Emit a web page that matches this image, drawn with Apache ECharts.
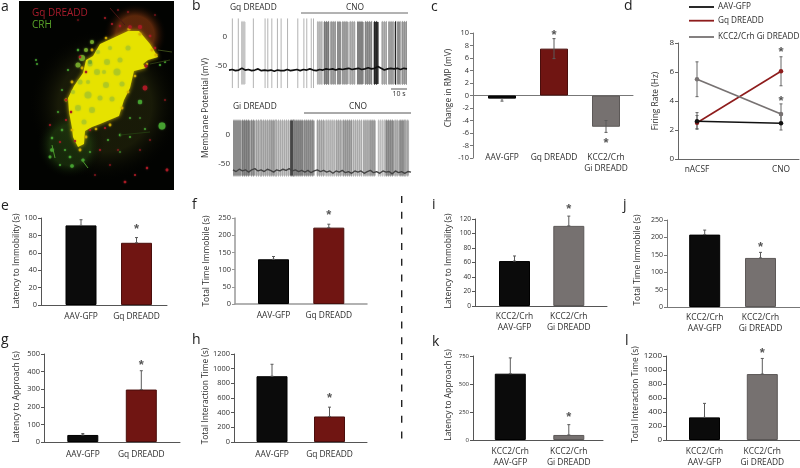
<!DOCTYPE html>
<html><head><meta charset="utf-8">
<style>html,body{margin:0;padding:0;background:#fff}#c{width:800px;height:468px}</style>
<script src="https://cdn.jsdelivr.net/npm/echarts@6/dist/echarts.min.js"></script>
</head><body><div id="c"></div>
<script>
// ---------- data ----------
const groupsGq = ['AAV-GFP', 'Gq DREADD'];
const groupsKcc = ['KCC2/Crh\nAAV-GFP', 'KCC2/Crh\nGi DREADD'];
const groupsC = ['AAV-GFP', 'Gq DREADD', 'KCC2/Crh\nGi DREADD'];

const cValues = [-0.5, 7.5, -5];
const cErrHi = [-0.5, 9.1, -4];
const cErrLo = [-0.9, 5.9, -5.9];
const cStars = [[2, 10], [3, -7.3]];

const dConditions = ['nACSF', 'CNO'];
const dAav = [2.6, 2.47], dAavHi = [3.2, 3.0], dAavLo = [2.05, 2.0];
const dGq = [2.5, 6.05], dGqHi = [3.0, 7.05], dGqLo = [2.1, 5.05];
const dGi = [5.5, 3.1], dGiHi = [6.7, 3.8], dGiLo = [4.3, 2.5];
const dStars = [[2, 7.5], [2, 4.15]];

const eValues = [91.5, 71.5], eErr = [98, 77.5], eStars = [[2, 90]];
const fValues = [130, 222], fErr = [138, 232], fStars = [[2, 265]];
const gValues = [40, 298], gErr = [48, 405], gStars = [[2, 449]];
const hValues = [897, 348], hErr = [1060, 475], hStars = [[2, 630]];
const iValues = [62, 110.5], iErr = [69, 124], iStars = [[2, 136]];
const jValues = [208, 141], jErr = [221, 157], jStars = [[2, 178]];
const kValues = [592, 45], kErr = [733, 137], kStars = [[2, 222]];
const lValues = [323, 942], lErr = [523, 1165], lStars = [[2, 1270]];

// traces in panel b: time (s), density 0..1
const gqSpikes = [2.1, 5.8, 15.2, 22.5, 24.2, 26.7, 30.2, 32.5, 36.5, 42.9, 46.7, 48.5, 51.3, 52.7];
const gqBursts = [[7.5,10.4,.2],[54.8,58.3,.27],[59,62.5,.53],[63.1,66.7,.4],[67.3,70,.47],[70.4,74.6,.4],[75,78.8,.33],[79.8,84,.53],[84.6,89.2,.47],[90.2,93.3,.93],[95,98.5,.33],[99.2,102.7,.4],[103.3,104.2,.93],[104.8,106.9,.47],[107.5,111,.4]];
const gqBaseline = [-57,-56,-58,-57,-54,-57,-56,-58,-57,-55,-58,-57,-58,-57,-59,-57,-58,-58,-56,-58,-57,-56,-58,-56,-57,-55,-57,-58,-56,-57,-55,-56,-55,-57,-55,-56,-55,-54,-56,-55,-54,-56,-55,-53,-55,-54,-51,-54,-57,-55,-54,-55,-54,-56,-54,-55];
const giBursts = [[0,5.4,.47],[5.4,11,.53],[11,14,.47],[14,17.2,.33],[17.2,23.2,.33],[23.2,26.5,.4],[26.5,35.6,.27],[35.6,37.5,.8],[37.5,44.1,.53],[44.1,50.9,.47],[52.1,57.5,.33],[57.5,64,.27],[64,68.2,.33],[68.2,74.5,.4],[74.5,80.7,.27],[81,84.9,.33],[84.9,89,.4],[90.2,95,.2],[95,100.5,.47],[100.5,103.6,.33],[103.6,107.1,.47],[107.1,109.8,.33]];
const giBaseline = [-60,-63,-59,-62,-60,-64,-60,-58,-62,-60,-63,-59,-61,-64,-60,-62,-59,-61,-58,-62,-60,-63,-61,-64,-61,-65,-62,-60,-63,-61,-64,-62,-66,-62,-64,-61,-65,-63,-66,-62,-64,-62,-66,-63,-61,-65,-63,-66,-62,-64,-63,-67,-62,-65,-63,-66,-63,-64];

const el = document.getElementById('c');
const chart = echarts.init(el, null, { renderer: 'canvas', width: 800, height: 468 });
const FONT = '"Open Sans", "Noto Sans", sans-serif';
const BLACK = '#0b0b0b', RED = '#701512', GRAY = '#767170', TEXT = '#2e2e2e';

const option = { animation: false, backgroundColor: '#fff', grid: [], xAxis: [], yAxis: [], series: [], graphic: [], legend: [] };

function addErr(ax, pts, color, cap) {
  option.series.push({
    type: 'custom', xAxisIndex: ax, yAxisIndex: ax, clip: false, z: 5, silent: true, data: pts,
    renderItem(p, api) {
      const x = api.value(0), a = api.coord([x, api.value(1)]), b = api.coord([x, api.value(2)]);
      const st = { stroke: color, lineWidth: 1 };
      const c = cap || 1.5;
      return { type: 'group', children: [
        { type: 'line', shape: { x1: a[0], y1: a[1], x2: b[0], y2: b[1] }, style: st },
        { type: 'line', shape: { x1: a[0] - c, y1: a[1], x2: a[0] + c, y2: a[1] }, style: st },
        { type: 'line', shape: { x1: b[0] - c, y1: b[1], x2: b[0] + c, y2: b[1] }, style: st }
      ] };
    }
  });
}
function addStars(ax, stars) {
  option.series.push({
    type: 'scatter', xAxisIndex: ax, yAxisIndex: ax, clip: false, symbolSize: 1, itemStyle: { color: 'transparent' }, z: 6, silent: true, data: stars,
    label: { show: true, formatter: '*', position: 'inside', fontSize: 13, fontWeight: 'bold', fontFamily: '"Liberation Sans"', color: '#2a2a2a', offset: [0, 2.5] }
  });
}
function axes(p, labels) {
  const ax = option.grid.length;
  const u = p.c2 - p.c1;
  option.grid.push({ left: p.x0, top: p.yTop, width: p.x1 - p.x0, height: p.yBot - p.yTop });
  option.xAxis.push({
    type: 'value', gridIndex: ax, min: 1 - (p.c1 - p.x0) / u, max: labels.length + (p.x1 - p.cEnd) / u,
    axisLine: { onZero: !!p.zeroLine, lineStyle: { color: p.axisColor, width: p.axisW || 1 } },
    axisTick: { show: false }, splitLine: { show: false },
    axisLabel: {
      customValues: labels.map((_, i) => i + 1), formatter: v => labels[v - 1], margin: p.labelMargin, interval: 0, hideOverlap: false,
      color: TEXT, fontSize: p.labelSize || 8.4, fontFamily: FONT, lineHeight: p.labelLH || 11, showMinLabel: true, showMaxLabel: true
    }
  });
  const mid = (p.yTop + p.yBot) / 2, s = mid - p.nameCy;
  option.yAxis.push({
    type: 'value', gridIndex: ax, min: p.ymin, max: p.ymax, interval: p.step,
    name: p.name, nameLocation: 'middle', nameRotate: 90, nameGap: p.x0 - p.nameX - 5,
    nameTextStyle: { color: TEXT, fontSize: p.nameSize || 8.4, fontFamily: FONT, padding: s > 0 ? [0, 0, 0, 2 * s] : [0, -2 * s, 0, 0] },
    axisLine: { show: true, onZero: false, lineStyle: { color: p.axisColor, width: p.axisW || 1 } },
    axisTick: { show: true, length: 3, lineStyle: { color: p.axisColor } }, splitLine: { show: false },
    axisLabel: { formatter: v => String(v), color: TEXT, fontSize: p.tickSize || 7.4, fontFamily: FONT, margin: 4, showMinLabel: true, showMaxLabel: true }
  });
  return ax;
}
function barPanel(p, labels, values, hi, lo, stars, colors, borders) {
  p.cEnd = p.c1 + (labels.length - 1) * (p.c2 - p.c1);
  const ax = axes(p, labels);
  option.series.push({
    type: 'bar', xAxisIndex: ax, yAxisIndex: ax, barWidth: p.barW, silent: true,
    data: values.map((v, i) => ({ value: [i + 1, v], itemStyle: { color: colors[i], borderColor: borders[i], borderWidth: 1 } }))
  });
  addErr(ax, values.map((v, i) => [i + 1, lo ? lo[i] : v, hi[i]]), '#5a5a5a');
  addStars(ax, stars);
}
const cGq = [BLACK, RED], bGq = ['#000', '#4a0e0c'];
const cKc = [BLACK, GRAY], bKc = ['#000', '#5c5857'];

barPanel({ x0: 473, x1: 633, yTop: 33, yBot: 158, c1: 502, c2: 554, barW: 28, ymin: -10, ymax: 10, step: 2, name: 'Change in RMP (mV)', nameX: 448, nameCy: 88, axisColor: '#777', zeroLine: true, labelMargin: -6 }, groupsC, cValues, cErrHi, cErrLo, cStars, [BLACK, RED, GRAY], ['#000', '#4a0e0c', '#5c5857']);

barPanel({ x0: 41, x1: 167, yTop: 218, yBot: 305, c1: 81, c2: 136.5, barW: 31, ymin: 0, ymax: 100, step: 20, name: 'Latency to Immobility (s)', nameX: 16, nameCy: 261, axisColor: '#555', labelMargin: 6 }, groupsGq, eValues, eErr, null, eStars, cGq, bGq);
barPanel({ x0: 235, x1: 367, yTop: 218, yBot: 304, c1: 273.5, c2: 328.8, barW: 31, ymin: 0, ymax: 250, step: 50, name: 'Total Time Immobile (s)', nameX: 206, nameCy: 261, axisColor: '#999', axisW: 1.5, labelMargin: 6 }, groupsGq, fValues, fErr, null, fStars, cGq, bGq);
barPanel({ x0: 44, x1: 180, yTop: 354, yBot: 442, c1: 82.8, c2: 141.3, barW: 31, ymin: 0, ymax: 500, step: 100, name: 'Latency to Approach (s)', nameX: 16, nameCy: 397, axisColor: '#555', labelMargin: 7 }, groupsGq, gValues, gErr, null, gStars, cGq, bGq);
barPanel({ x0: 234, x1: 367, yTop: 354, yBot: 442, c1: 272, c2: 329.5, barW: 31, ymin: 0, ymax: 1200, step: 200, name: 'Total Interaction Time (s)', nameX: 206, nameCy: 396, axisColor: '#555', labelMargin: 7 }, groupsGq, hValues, hErr, null, hStars, cGq, bGq);
barPanel({ x0: 475, x1: 607, yTop: 219, yBot: 306, c1: 514.5, c2: 568.8, barW: 31, ymin: 0, ymax: 120, step: 20, name: 'Latency to Immobility (s)', nameX: 448, nameCy: 261, axisColor: '#555', labelMargin: 5, tickSize: 6.6 }, groupsKcc, iValues, iErr, null, iStars, cKc, bKc);
barPanel({ x0: 667, x1: 800, yTop: 220, yBot: 307, c1: 704.7, c2: 760.5, barW: 31, ymin: 0, ymax: 250, step: 50, name: 'Total Time Immobile (s)', nameX: 637, nameCy: 260, axisColor: '#777', labelMargin: 5, tickSize: 7 }, groupsKcc, jValues, jErr, null, jStars, cKc, bKc);
barPanel({ x0: 473, x1: 603, yTop: 356, yBot: 444, c1: 510.3, c2: 568.8, barW: 31, ymin: 0, ymax: 750, step: 250, name: 'Latency to Approach (s)', nameX: 448, nameCy: 397, axisColor: '#555', labelMargin: 6, tickSize: 6 }, groupsKcc, kValues, kErr, null, kStars, cKc, bKc);
barPanel({ x0: 666, x1: 800, yTop: 356, yBot: 443, c1: 704.5, c2: 762.3, barW: 31, ymin: 0, ymax: 1200, step: 200, name: 'Total Interaction Time (s)', nameX: 637, nameCy: 396, axisColor: '#555', labelMargin: 6, tickSize: 8 }, groupsKcc, lValues, lErr, null, lStars, cKc, bKc);

// panel d
(function () {
  const p = { x0: 678, x1: 799, yTop: 43, yBot: 159, c1: 697, c2: 781, cEnd: 781, ymin: 0, ymax: 8, step: 2, name: 'Firing Rate (Hz)', nameX: 655, nameCy: 101, axisColor: '#666', labelMargin: 5, tickSize: 8 };
  const ax = axes(p, dConditions);
  const sets = [['AAV-GFP', dAav, dAavHi, dAavLo, '#111111'], ['Gq DREADD', dGq, dGqHi, dGqLo, '#8e1c1c'], ['KCC2/Crh Gi DREADD', dGi, dGiHi, dGiLo, '#777272']];
  const legendY = [9, 22.7, 39];
  sets.forEach((s, k) => {
    addErr(ax, s[1].map((v, i) => [i + 1, s[3][i], s[2][i]]), '#666');
    option.series.push({
      type: 'line', name: s[0], xAxisIndex: ax, yAxisIndex: ax, silent: true,
      symbol: 'circle', symbolSize: 4.5, lineStyle: { color: s[4], width: k === 2 ? 1.7 : 1.6 }, itemStyle: { color: s[4] },
      data: s[1].map((v, i) => [i + 1, v]), z: k === 0 ? 8 : 7
    });
    option.legend.push({
      data: [{ name: s[0], icon: 'rect' }], left: 689, top: legendY[k] - 6, itemWidth: 25, itemHeight: 1.8, itemGap: 4, padding: 0,
      itemStyle: { color: s[4] }, lineStyle: { opacity: 0 },
      textStyle: { color: TEXT, fontSize: 8.2, fontFamily: FONT, padding: [0, 0, 0, -1] }, selectedMode: false
    });
  });
  addStars(ax, dStars);
})();

// panel b traces
function tracePanel(left, zeroY, spikes, bursts, baseline, burstTop, burstBot, labelMargin, lineColor, lineW) {
  const ax = option.grid.length, scale = 0.58;
  option.grid.push({ left, top: zeroY - 50 * scale, width: 178, height: 150 * scale });
  option.xAxis.push({ type: 'value', gridIndex: ax, min: 0, max: 111, show: false });
  option.yAxis.push({ type: 'value', gridIndex: ax, min: -100, max: 50, interval: 50, axisLine: { show: false, onZero: false }, axisTick: { show: false }, splitLine: { show: false },
    axisLabel: { customValues: [0, -50], color: TEXT, fontSize: 8, fontFamily: FONT, margin: labelMargin } });
  option.series.push({
    type: 'custom', xAxisIndex: ax, yAxisIndex: ax, silent: true, clip: false, data: bursts, z: 2,
    renderItem(pm, api) {
      const a = api.coord([api.value(0), burstTop]), b = api.coord([api.value(1), burstBot]);
      const d = api.value(2), g = Math.round(255 * (1 - d * 0.85)), dk = Math.round(g - 40 * (1 - d * 0.5));
      const kids = [{ type: 'rect', shape: { x: a[0], y: a[1], width: b[0] - a[0], height: b[1] - a[1] }, style: { fill: `rgb(${g},${g},${g})` } }];
      for (let x = a[0] + 1; x < b[0]; x += 2) kids.push({ type: 'line', shape: { x1: x, y1: a[1] - 1, x2: x, y2: b[1] + 1 }, style: { stroke: `rgb(${dk},${dk},${dk})`, lineWidth: 0.8 } });
      return { type: 'group', children: kids };
    }
  });
  if (spikes.length) option.series.push({
    type: 'custom', xAxisIndex: ax, yAxisIndex: ax, silent: true, clip: false, data: spikes.map(t => [t]), z: 2,
    renderItem(pm, api) {
      const a = api.coord([api.value(0), burstTop + 6]), b = api.coord([api.value(0), burstBot - 7]);
      return { type: 'line', shape: { x1: a[0], y1: a[1], x2: b[0], y2: b[1] }, style: { stroke: '#aaaaaa', lineWidth: 0.9 } };
    }
  });
  option.series.push({
    type: 'line', xAxisIndex: ax, yAxisIndex: ax, silent: true, symbol: 'none', z: 3,
    lineStyle: { color: lineColor, width: lineW }, data: baseline.map((v, i) => [i * 111 / (baseline.length - 1), v])
  });
}
tracePanel(229, 37, gqSpikes, gqBursts, gqBaseline, 26, -81, 2, '#111', 1.7);
tracePanel(233, 135, [], giBursts, giBaseline, 25, -70, 3, '#444', 1.4);

// annotations
const g = option.graphic;
function txt(x, y, t, size, extra) {
  g.push({ type: 'text', x, y, silent: true, z: 20, style: Object.assign({ text: t, fill: TEXT, fontSize: size, fontFamily: FONT, align: 'left', verticalAlign: 'middle' }, extra || {}) });
}
function ln(x1, y1, x2, y2, stroke, w, dash) {
  g.push({ type: 'line', silent: true, z: 20, shape: { x1, y1, x2, y2 }, style: { stroke, lineWidth: w, lineDash: dash } });
}
[['a',1,7],['b',192,6],['c',431,7],['d',624,6],['e',1,206],['f',192,205],['g',1,340],['h',192,340],['i',432,205],['j',623,205],['k',432,342],['l',625,341]]
  .forEach(l => txt(l[1], l[2], l[0], 14, { fill: '#222' }));
txt(230, 8, 'Gq DREADD', 8.4);
txt(355, 8, 'CNO', 8.4, { align: 'center' });
txt(233, 107, 'Gi DREADD', 8.4);
txt(358, 107, 'CNO', 8.4, { align: 'center' });
txt(399, 94, '10 s', 7, { align: 'center' });
ln(301, 13, 408, 13, '#666', 1);
ln(304, 113, 411, 113, '#555', 1);
ln(391, 89, 407, 89, '#555', 1);
g.push({ type: 'text', x: 205.5, y: 108, rotation: Math.PI / 2, silent: true, z: 20, style: { text: 'Membrane Potential (mV)', fill: TEXT, fontSize: 8.4, fontFamily: FONT, align: 'center', verticalAlign: 'middle' } });
ln(401.7, 196, 401.7, 445, '#222', 1.4, [7, 8.7]);

// panel a: micrograph sketch
(function () {
  const frame = { x: 19, y: 1, width: 155, height: 189 };
  const items = [];
  const glow = (cx, cy, r, c) => items.push({ type: 'rect', shape: frame, style: { fill: { type: 'radial', x: cx, y: cy, r, global: true, colorStops: [{ offset: 0, color: c }, { offset: .6, color: c }, { offset: 1, color: 'rgba(0,0,0,0)' }] } } });
  const poly = (pts, fill, blur, sc) => items.push({ type: 'polygon', shape: { points: pts }, style: { fill, shadowBlur: blur || 0, shadowColor: sc || fill } });
  const dot = (c, fill, blur, op) => items.push({ type: 'circle', shape: { cx: c[0], cy: c[1], r: c[2] }, style: { fill, opacity: op == null ? 1 : op, shadowBlur: blur, shadowColor: fill } });
  items.push({ type: 'rect', shape: frame, style: { fill: '#020301' } });
  glow(105, 105, 78, 'rgba(32,34,10,0.75)');
  glow(70, 145, 34, 'rgba(30,56,14,0.7)');
  glow(135, 35, 32, 'rgba(120,50,14,0.75)');
  poly([[128,31],[139,31],[150,44],[158,57],[148,60],[143,64],[146,68],[134,71],[130,88],[124,100],[119,116],[100,124],[92,127],[85,131],[84,144],[78,147],[73,137],[72,128],[69,112],[68,98],[74,86],[83,73],[86,60],[93,56],[100,44],[113,38]], '#e6e200', 4, '#c8b400');
  // edge speckle softening the outline
  [[129,29,1.6],[140,34,1.6],[152,50,1.4],[156,55,1.6],[147,64,1.2],[135,76,1.3],[128,92,1.3],[122,108,1.4],[110,125,1.4],[96,129,1.3],[86,137,1.4],[80,150,1.4],[72,130,1.3],[66,100,1.4],[72,82,1.4],[82,68,1.4],[92,50,1.4],[106,38,1.3]]
    .forEach(c => dot(c, '#d8b000', 2, .85));
  // green-tinted cells inside the yellow region
  [[107,62,3],[117,72,3.5],[97,72,3],[88,95,3.5],[80,82,2.5],[106,85,3],[120,60,2.5],[92,110,3],[78,108,3],[100,98,2.5],[112,99,2.5],[90,64,2.5],[84,122,2.5],[128,48,2.5],[73,92,2],[98,52,2],[122,84,2.5],[104,72,2],[88,82,2],[110,48,2]]
    .forEach(c => dot(c, '#a8c428', 2, .65));
  [[82,58,3],[78,65,2.5],[86,50,2],[92,42,2],[90,62,2]].forEach(c => dot(c, '#74a82a', 2, .9));
  // isolated green cells and fibres
  [[162,126,3.4],[140,102,2.2],[36,60,.9],[37,64,.9],[52,150,1.8],[50,157,1.4],[72,166,1.8],[83,160,1.6],[62,130,1.2],[52,138,1.2],[120,135,1.2],[130,137,1],[70,157,1.3],[160,65,1.1],[78,50,1.2],[145,129,.9],[108,140,1],[65,150,1],[60,165,1],[90,152,.9],[130,118,.9],[140,118,.8],[120,152,.8],[58,112,.9],[62,90,.9],[68,70,1],[165,62,1]]
    .forEach(c => dot(c, '#45a030', 1.5));
  // red fibres and spots
  [[145,88,2.4],[146,66,1.5],[140,27,2],[130,27,1.8],[150,36,1.3],[120,26,1.2],[125,182,1.3],[147,168,1.2],[167,170,1.4],[66,100,1.1],[66,120,1.1],[71,112,1.2],[105,128,1.1],[86,72,1.2],[60,142,1],[155,48,1.2],[112,24,1],[105,18,.9],[118,10,.8],[135,175,1],[100,150,1],[118,150,.8],[165,100,.8],[80,57,1.2],[90,130,1.1],[75,141,1.1],[150,140,.8],[140,150,.8],[128,12,.8],[78,20,.7],[155,15,.7],[50,125,.9],[95,175,.8],[110,165,.8]]
    .forEach(c => dot(c, '#a81a24', 1.5));
  items.forEach(it => { it.silent = true; it.z = 2; g.push(it); });
  [[52,145,55,158,'#4c9a2c'],[82,160,88,168,'#4c9a2c'],[110,8,125,25,'#4a1614'],[158,50,172,52,'#3a4a18'],[150,64,170,60,'#2c3a12'],[120,135,150,132,'#22380f']]
    .forEach(s => ln(s[0], s[1], s[2], s[3], s[4], 1));
  txt(32, 13, 'Gq DREADD', 10, { fill: '#a81c2c' });
  txt(32, 25, 'CRH', 10, { fill: '#5aa52a' });
})();

chart.setOption(option);
</script></body></html>
